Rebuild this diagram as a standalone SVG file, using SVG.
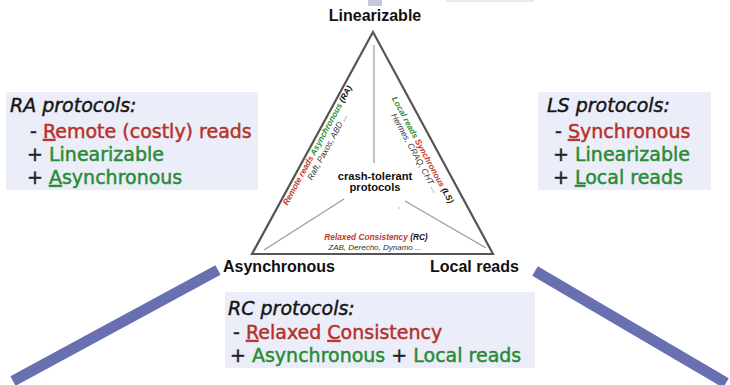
<svg xmlns="http://www.w3.org/2000/svg" width="730" height="385" viewBox="0 0 730 385">
  <style>
    .corner { font-family: "Liberation Sans", Arial, sans-serif; font-weight: bold; font-size: 16px; fill: #111; }
    .tri { fill: #fff; stroke: #555; stroke-width: 2.2; stroke-linejoin: miter; }
    .split { stroke: #9a9a9a; stroke-width: 1.2; fill: none; }
    .lbl { font-family: "Liberation Sans", Arial, sans-serif; font-style: italic; font-weight: bold; font-size: 8.3px; }
    .sub { font-family: "Liberation Sans", Arial, sans-serif; font-style: italic; font-size: 8.4px; fill: #333; }
    .mid { font-family: "Liberation Sans", Arial, sans-serif; font-weight: bold; font-size: 11.2px; fill: #111; }
    .red { fill: #c23a2c; }
    .grn { fill: #2d8f32; }
    .blk { fill: #111; }
    .box { fill: #ebedf8; }
    .bt { font-family: "DejaVu Sans", Verdana, sans-serif; font-size: 19px; fill: #222; stroke: #222; stroke-width: 0.45; }
    .bt .r { fill: #b5322a; stroke: #b5322a; }
    .bt .g { fill: #2a8a34; stroke: #2a8a34; }
    .ttl { font-style: italic; fill: #111; }
    .u { text-decoration: underline; }
    .bar { stroke: #6970b2; stroke-width: 11; stroke-linecap: butt; fill: none; }
  </style>

  <!-- partial slide elements along the top edge -->
  <rect x="368" y="-6" width="14" height="12" fill="#c5c7dd"/>
  <rect x="447" y="-12" width="86" height="13" fill="#fff" stroke="#d4d4d4" stroke-width="1"/>

  <!-- thick bars leading away from the base corners -->
  <g id="connectors">
    <line class="bar" x1="13" y1="381" x2="218" y2="270"/>
    <line class="bar" x1="535" y1="271" x2="726" y2="383"/>
  </g>

  <!-- consistency / locality triangle -->
  <g id="triangle">
    <polygon class="tri" points="373,32 252,254 493,254"/>
    <line class="split" x1="374" y1="45" x2="374" y2="163"/>
    <line class="split" x1="344" y1="199" x2="264" y2="250"/>
    <line class="split" x1="405" y1="201" x2="486" y2="248"/>
    <circle cx="399" cy="208" r="0.8" fill="#aaa"/>
    <text class="mid" x="375" y="180" text-anchor="middle">crash-tolerant</text>
    <text class="mid" x="375" y="191" text-anchor="middle">protocols</text>
  </g>

  <g id="ra-label" transform="translate(319.7,146.7) rotate(-61.4)">
    <text class="lbl" x="0" y="0" text-anchor="middle"><tspan class="red">Remote reads </tspan><tspan class="grn">Asynchronous </tspan><tspan class="blk">(RA)</tspan></text>
    <text class="sub" x="3.5" y="9.5" text-anchor="middle">Raft, Paxos, ABD ...</text>
  </g>

  <g id="ls-label" transform="translate(420.3,151.2) rotate(61.4)">
    <text class="lbl" x="0" y="0" text-anchor="middle"><tspan class="grn">Local reads </tspan><tspan class="red">Synchronous </tspan><tspan class="blk">(LS)</tspan></text>
    <text class="sub" x="-1" y="8.5" text-anchor="middle">Hermes, CRAQ, CHT ...</text>
  </g>

  <g id="rc-label">
    <text class="lbl" x="376" y="240" text-anchor="middle"><tspan class="red">Relaxed Consistency </tspan><tspan class="blk">(RC)</tspan></text>
    <text class="sub" x="375" y="250" text-anchor="middle" style="font-size:8px">ZAB, Derecho, Dynamo ...</text>
  </g>

  <!-- corner properties -->
  <g id="corner-linearizable"><text class="corner" x="375" y="21" text-anchor="middle">Linearizable</text></g>
  <g id="corner-asynchronous"><text class="corner" x="223" y="272">Asynchronous</text></g>
  <g id="corner-local-reads"><text class="corner" x="430" y="272">Local reads</text></g>

  <!-- protocol families -->
  <g id="ra-box">
    <rect class="box" x="6" y="92" width="252" height="98"/>
    <text class="bt">
      <tspan class="ttl" x="10" y="112">RA protocols:</tspan>
      <tspan x="30" y="138">- <tspan class="r"><tspan class="u">R</tspan>emote (costly) reads</tspan></tspan>
      <tspan x="27" y="161">+ <tspan class="g">Linearizable</tspan></tspan>
      <tspan x="27" y="184">+ <tspan class="g"><tspan class="u">A</tspan>synchronous</tspan></tspan>
    </text>
  </g>

  <g id="ls-box">
    <rect class="box" x="538" y="92" width="173" height="98"/>
    <text class="bt">
      <tspan class="ttl" x="547" y="112">LS protocols:</tspan>
      <tspan x="555" y="138">- <tspan class="r"><tspan class="u">S</tspan>ynchronous</tspan></tspan>
      <tspan x="553" y="161">+ <tspan class="g">Linearizable</tspan></tspan>
      <tspan x="553" y="184">+ <tspan class="g"><tspan class="u">L</tspan>ocal reads</tspan></tspan>
    </text>
  </g>

  <g id="rc-box">
    <rect class="box" x="225" y="292" width="310" height="76"/>
    <text class="bt">
      <tspan class="ttl" x="228" y="315">RC protocols:</tspan>
      <tspan x="233" y="339">- <tspan class="r"><tspan class="u">R</tspan>elaxed <tspan class="u">C</tspan>onsistency</tspan></tspan>
      <tspan x="230" y="362">+ <tspan class="g">Asynchronous</tspan> + <tspan class="g">Local reads</tspan></tspan>
    </text>
  </g>
</svg>
